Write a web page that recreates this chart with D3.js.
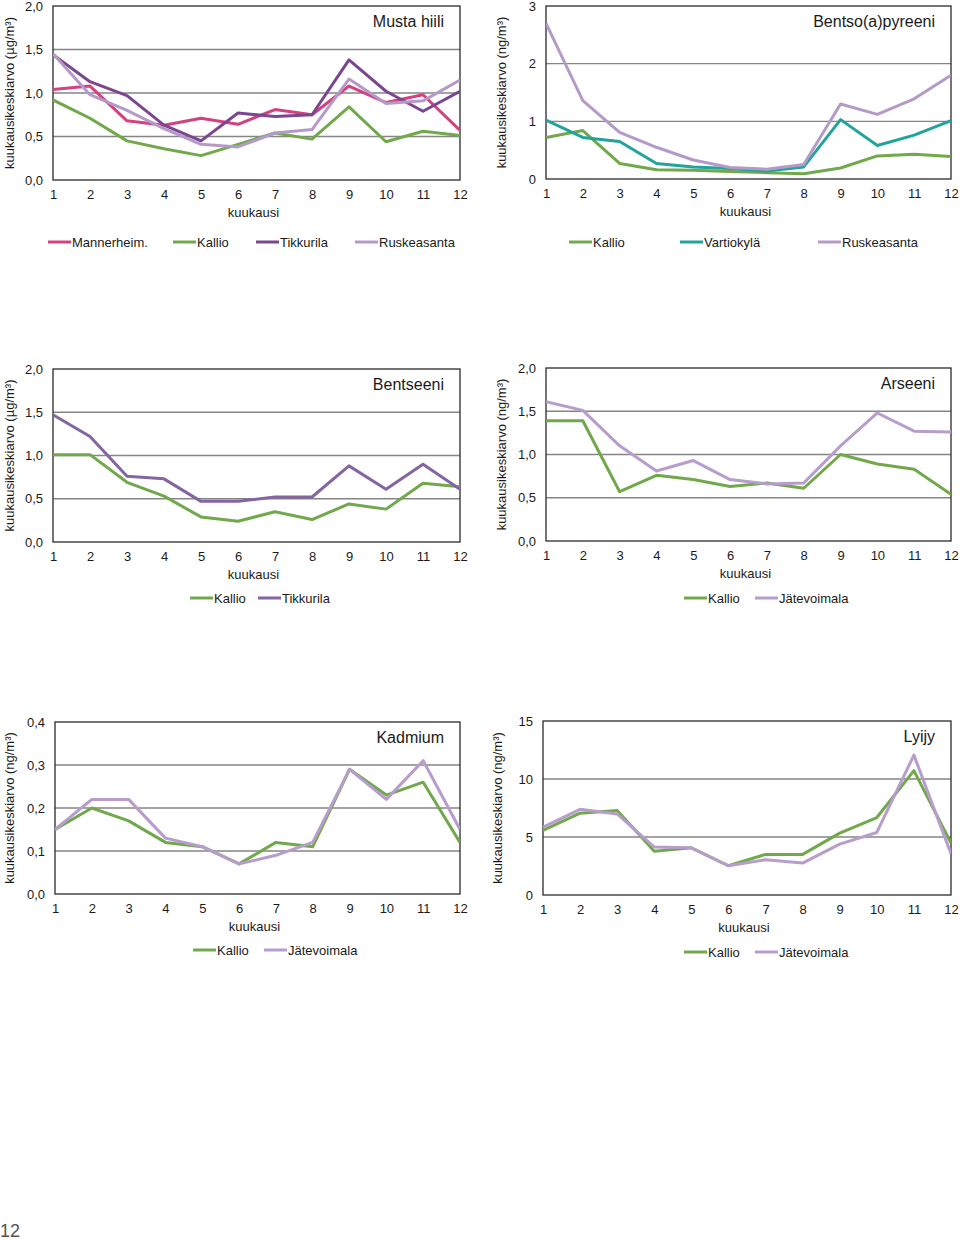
<!DOCTYPE html>
<html><head><meta charset="utf-8">
<script src="https://cdn.jsdelivr.net/npm/d3@7"></script>
<style>
body{margin:0;background:#fff;}
svg text{font-family:"Liberation Sans",Arial,sans-serif;fill:#1a1a1a;}
</style></head><body>
<script>
const months = [1,2,3,4,5,6,7,8,9,10,11,12];

// Musta hiili (µg/m³)
const mhMannerheim = [1.04,1.08,0.68,0.63,0.71,0.64,0.81,0.75,1.08,0.89,0.98,0.57];
const mhKallio     = [0.92,0.71,0.45,0.36,0.28,0.41,0.54,0.47,0.84,0.44,0.56,0.51];
const mhTikkurila  = [1.44,1.13,0.97,0.63,0.45,0.77,0.73,0.75,1.38,1.02,0.79,1.02];
const mhRuskeasanta= [1.45,0.98,0.80,0.59,0.41,0.38,0.54,0.58,1.16,0.88,0.91,1.15];

// Bentso(a)pyreeni (ng/m³)
const bapKallio     = [0.72,0.84,0.27,0.16,0.15,0.13,0.11,0.09,0.19,0.40,0.43,0.39];
const bapVartiokyla = [1.02,0.72,0.65,0.27,0.21,0.18,0.14,0.21,1.03,0.58,0.76,1.01];
const bapRuskeasanta= [2.70,1.36,0.81,0.55,0.33,0.20,0.17,0.25,1.30,1.12,1.39,1.80];

// Bentseeni (µg/m³)
const bzKallio    = [1.01,1.01,0.69,0.53,0.29,0.24,0.35,0.26,0.44,0.38,0.68,0.64];
const bzTikkurila = [1.47,1.22,0.76,0.73,0.47,0.47,0.52,0.52,0.88,0.61,0.90,0.61];

// Arseeni (ng/m³)
const asKallio      = [1.39,1.39,0.57,0.76,0.71,0.63,0.67,0.61,1.00,0.89,0.83,0.54];
const asJatevoimala = [1.61,1.51,1.10,0.81,0.93,0.71,0.66,0.67,1.10,1.48,1.27,1.26];

// Kadmium (ng/m³)
const cdKallio      = [0.15,0.20,0.17,0.12,0.11,0.07,0.12,0.11,0.29,0.23,0.26,0.12];
const cdJatevoimala = [0.15,0.22,0.22,0.13,0.11,0.07,0.09,0.12,0.29,0.22,0.31,0.15];

// Lyijy (ng/m³)
const pbKallio      = [5.56,7.05,7.28,3.78,4.07,2.52,3.50,3.50,5.33,6.68,10.72,4.47];
const pbJatevoimala = [5.85,7.39,6.99,4.13,4.07,2.52,3.04,2.75,4.38,5.39,12.06,3.55];

const ticksMH  = [0,0.5,1.0,1.5,2.0];
const ticksBaP = [0,1,2,3];
const ticksBz  = [0,0.5,1.0,1.5,2.0];
const ticksAs  = [0,0.5,1.0,1.5,2.0];
const ticksCd  = [0,0.1,0.2,0.3,0.4];
const ticksPb  = [0,5,10,15];

const C = {mann:"#d4417f", kallio:"#72a84c", tikk:"#7b4690", tikk2:"#8465a3", rusk:"#b49ac9", vart:"#22a39c", jate:"#b79dcc"};

const panels = [
 {x0:53,x1:460,y0:6,y1:180,domain:[0,2],ticks:ticksMH,fmt:",.1f",title:"Musta hiili",ylab:"kuukausikeskiarvo (µg/m³)",labX:9,
  series:[["Mannerheim.",mhMannerheim,C.mann],["Kallio",mhKallio,C.kallio],["Tikkurila",mhTikkurila,C.tikk],["Ruskeasanta",mhRuskeasanta,C.rusk]],
  legY:242,legX:[48,173,256,355]},
 {x0:546,x1:951,y0:6,y1:179,domain:[0,3],ticks:ticksBaP,fmt:"d",title:"Bentso(a)pyreeni",ylab:"kuukausikeskiarvo (ng/m³)",labX:501,
  series:[["Kallio",bapKallio,C.kallio],["Vartiokylä",bapVartiokyla,C.vart],["Ruskeasanta",bapRuskeasanta,C.rusk]],
  legY:242,legX:[569,680,818]},
 {x0:53,x1:460,y0:369,y1:542,domain:[0,2],ticks:ticksBz,fmt:",.1f",title:"Bentseeni",ylab:"kuukausikeskiarvo (µg/m³)",labX:9,
  series:[["Kallio",bzKallio,C.kallio],["Tikkurila",bzTikkurila,C.tikk2]],
  legY:598,legX:[190,258]},
 {x0:546,x1:951,y0:368,y1:541,domain:[0,2],ticks:ticksAs,fmt:",.1f",title:"Arseeni",ylab:"kuukausikeskiarvo (ng/m³)",labX:501,
  series:[["Kallio",asKallio,C.kallio],["Jätevoimala",asJatevoimala,C.jate]],
  legY:598,legX:[684,755]},
 {x0:55,x1:460,y0:722,y1:894,domain:[0,0.4],ticks:ticksCd,fmt:",.1f",title:"Kadmium",ylab:"kuukausikeskiarvo (ng/m³)",labX:9,
  series:[["Kallio",cdKallio,C.kallio],["Jätevoimala",cdJatevoimala,C.jate]],
  legY:950,legX:[193,264]},
 {x0:543,x1:951,y0:721,y1:895,domain:[0,15],ticks:ticksPb,fmt:"d",title:"Lyijy",ylab:"kuukausikeskiarvo (ng/m³)",labX:497,
  series:[["Kallio",pbKallio,C.kallio],["Jätevoimala",pbJatevoimala,C.jate]],
  legY:952,legX:[684,755]}
];

const fiLocale = d3.formatLocale({decimal:",",thousands:" ",grouping:[3],currency:["","€"]});
const FS = 13;

const svg = d3.select("body").append("svg").attr("width",960).attr("height",1240);

panels.forEach(p=>{
  const g = svg.append("g");
  const x = d3.scaleLinear().domain([1,12]).range([p.x0,p.x1]);
  const y = d3.scaleLinear().domain(p.domain).range([p.y1,p.y0]);
  g.selectAll("line.grid").data(p.ticks.filter(t=>t>p.domain[0] && t<p.domain[1])).enter().append("line")
    .attr("x1",p.x0).attr("x2",p.x1).attr("y1",d=>y(d)).attr("y2",d=>y(d))
    .attr("stroke","#858585").attr("stroke-width",1.3);
  g.append("rect").attr("x",p.x0).attr("y",p.y0).attr("width",p.x1-p.x0).attr("height",p.y1-p.y0)
    .attr("fill","none").attr("stroke","#2a2a2a").attr("stroke-width",1.3);
  const yAxis = d3.axisLeft(y).tickValues(p.ticks).tickSize(0).tickPadding(10).tickFormat(fiLocale.format(p.fmt));
  const ya = g.append("g").attr("transform",`translate(${p.x0},0)`).call(yAxis);
  ya.select(".domain").remove();
  ya.selectAll("text").attr("font-size",FS).style("font-family","Liberation Sans, Arial, sans-serif").attr("fill","#1a1a1a");
  const xAxis = d3.axisBottom(x).tickValues(months).tickSize(0).tickPadding(10).tickFormat(d3.format("d"));
  const xa = g.append("g").attr("transform",`translate(0,${p.y1})`).call(xAxis);
  xa.select(".domain").remove();
  xa.selectAll("text").attr("font-size",FS).style("font-family","Liberation Sans, Arial, sans-serif").attr("fill","#1a1a1a");
  g.append("text").attr("x",(p.x0+p.x1)/2 - 3).attr("y",p.y1+37).attr("text-anchor","middle").attr("font-size",FS).text("kuukausi");
  g.append("text").attr("transform",`translate(${p.labX},${(p.y0+p.y1)/2}) rotate(-90)`).attr("text-anchor","middle")
    .attr("dy","0.35em").attr("font-size",FS).text(p.ylab);
  g.append("text").attr("x",p.x1-16).attr("y",p.y0+21).attr("text-anchor","end").attr("font-size",16).text(p.title);
  const line = d3.line().x((d,i)=>x(months[i])).y(d=>y(d));
  const clipId = "clip"+p.x0+"_"+p.y0;
  g.append("clipPath").attr("id",clipId).append("rect").attr("x",p.x0).attr("y",p.y0-3).attr("width",p.x1-p.x0).attr("height",p.y1-p.y0+3);
  p.series.forEach(s=>{
    g.append("path").datum(s[1]).attr("d",line).attr("fill","none").attr("stroke",s[2])
      .attr("stroke-width",3).attr("stroke-linejoin","round").attr("clip-path",`url(#${clipId})`);
  });
  p.series.forEach((s,i)=>{
    const lx = p.legX[i];
    g.append("line").attr("x1",lx).attr("x2",lx+23).attr("y1",p.legY).attr("y2",p.legY).attr("stroke",s[2]).attr("stroke-width",3);
    g.append("text").attr("x",lx+24).attr("y",p.legY).attr("dy","0.36em").attr("font-size",FS).text(s[0]);
  });
});

svg.append("text").attr("x",0).attr("y",1237).attr("font-size",18).style("fill","#555").text("12");
</script>
</body></html>
